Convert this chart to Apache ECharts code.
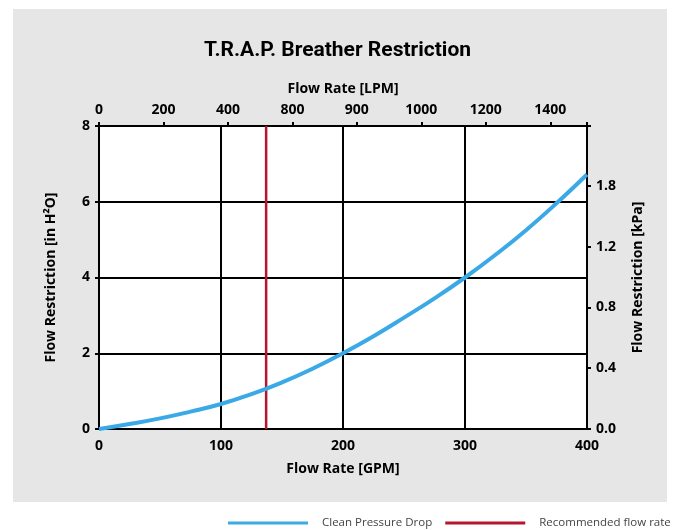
<!DOCTYPE html>
<html>
<head>
<meta charset="utf-8">
<script src="https://cdn.jsdelivr.net/npm/echarts@6/dist/echarts.min.js"></script>
<style>
  html, body { margin: 0; padding: 0; background: #fff; }
  #chart { width: 675px; height: 530px; }
</style>
</head>
<body>
<div id="chart"></div>
<script>
// flow rate in GPM and restriction in in H2O
var gpm = [0, 25, 50, 75, 100, 125, 150, 175, 200, 225, 250, 275, 300, 325, 350, 375, 400];
var restriction = [0, 0.13, 0.28, 0.46, 0.66, 0.92, 1.23, 1.59, 2.0, 2.45, 2.94, 3.45, 4.0, 4.6, 5.25, 5.96, 6.72];
var recommendedGpm = 137;

// tick labels as printed on the original (top and right axes)
var lpmLabels = ['0', '200', '400', '800', '900', '1000', '1200', '1400'];
var kpaLabels = ['0.0', '0.4', '0.8', '1.2', '1.8'];

var chart = echarts.init(document.getElementById('chart'));

var curve = [];
for (var i = 0; i < gpm.length; i++) curve.push([gpm[i], restriction[i]]);

var font = 'Open Sans';
var tickLbl = { color: '#000', fontWeight: 'bold', fontSize: 14, fontFamily: font };
var nameLbl = { color: '#000', fontWeight: 'bold', fontSize: 14, fontFamily: font };
var blackLine = { lineStyle: { color: '#000', width: 2 } };
var axLine = { onZero: false, lineStyle: { color: '#000', width: 2 } };
var ticks = { show: true, length: 4, lineStyle: { color: '#000', width: 2 } };

var option = {
    animation: false,
    graphic: [{
        type: 'rect',
        z: -10,
        shape: { x: 13, y: 9, width: 654, height: 493 },
        style: { fill: '#e6e6e6' }
    }],
    title: {
        text: 'T.R.A.P. Breather Restriction',
        left: 'center',
        top: 35,
        textStyle: { color: '#000', fontWeight: 'bold', fontSize: 21, fontFamily: 'Roboto' }
    },
    legend: {
        top: 512,
        left: 223,
        width: 450,
        icon: 'rect',
        itemWidth: 80,
        itemHeight: 3,
        itemGap: 13,
        textStyle: { color: '#444', fontSize: 11.5, fontFamily: font, padding: [0, 0, 0, 9] },
        data: ['Clean Pressure Drop', 'Recommended flow rate']
    },
    grid: {
        left: 99, right: 88, top: 126, bottom: 101,
        show: true,
        backgroundColor: '#fff',
        borderColor: '#000',
        borderWidth: 2
    },
    xAxis: [{
        type: 'value',
        position: 'bottom',
        min: 0, max: 400, interval: 100,
        name: 'Flow Rate [GPM]',
        nameLocation: 'middle',
        nameGap: 33,
        nameTextStyle: nameLbl,
        axisLine: axLine,
        axisTick: { show: false },
        axisLabel: Object.assign({ margin: 10 }, tickLbl),
        splitLine: blackLine
    }, {
        type: 'value',
        position: 'top',
        min: 0, max: 1514, interval: 200,
        name: 'Flow Rate [LPM]',
        nameLocation: 'middle',
        nameGap: 30,
        nameTextStyle: nameLbl,
        axisLine: axLine,
        axisTick: ticks,
        axisLabel: Object.assign({ margin: 9, formatter: function (v) { return lpmLabels[Math.round(v / 200)] || ''; } }, tickLbl),
        splitLine: { show: false }
    }],
    yAxis: [{
        type: 'value',
        position: 'left',
        min: 0, max: 8, interval: 2,
        name: 'Flow Restriction [in H²O]',
        nameLocation: 'middle',
        nameRotate: 90,
        nameGap: 41,
        nameTextStyle: nameLbl,
        axisLine: axLine,
        axisTick: ticks,
        axisLabel: Object.assign({ margin: 9 }, tickLbl),
        splitLine: blackLine
    }, {
        type: 'value',
        position: 'right',
        min: 0, max: 1.993, interval: 0.4,
        name: 'Flow Restriction [kPa]',
        nameLocation: 'middle',
        nameRotate: 90,
        nameGap: 44,
        nameTextStyle: nameLbl,
        axisLine: axLine,
        axisTick: ticks,
        axisLabel: Object.assign({ margin: 9, formatter: function (v) { return kpaLabels[Math.round(v / 0.4)] || ''; } }, tickLbl),
        splitLine: { show: false }
    }],
    series: [{
        name: 'Clean Pressure Drop',
        type: 'line',
        xAxisIndex: 0,
        yAxisIndex: 0,
        data: curve,
        smooth: true,
        symbol: 'none',
        z: 5,
        lineStyle: { color: '#3aa9e6', width: 4 },
        itemStyle: { color: '#3aa9e6' }
    }, {
        name: 'Recommended flow rate',
        type: 'line',
        xAxisIndex: 0,
        yAxisIndex: 0,
        data: [[recommendedGpm, 0], [recommendedGpm, 8]],
        symbol: 'none',
        z: 4,
        lineStyle: { color: '#b5162d', width: 2.5 },
        itemStyle: { color: '#b5162d' }
    }]
};
chart.setOption(option);
</script>
</body>
</html>
